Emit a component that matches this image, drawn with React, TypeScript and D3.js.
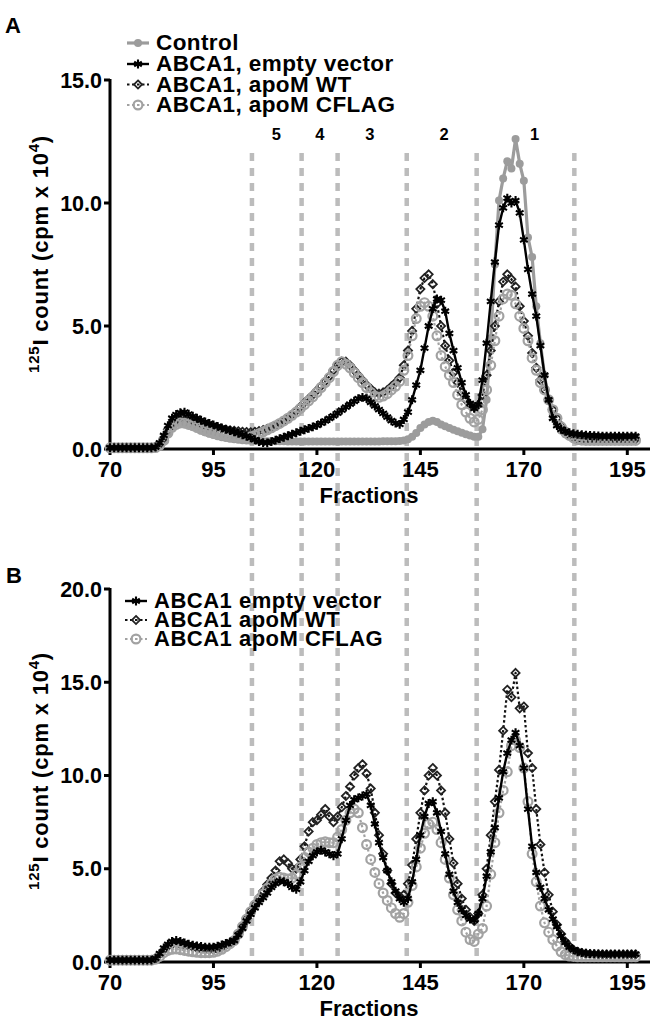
import React from "react";
import * as d3 from "d3";

// ---------- data ----------
const FIRST_FRACTION = 70;
const xTicks = [70, 95, 120, 145, 170, 195];
const yTicksA = [0, 5, 10, 15];
const yTicksB = [0, 5, 10, 15, 20];
const boundaries = [104.3, 116.3, 125.0, 141.7, 158.6, 182.2];
const regionLabels = ["5", "4", "3", "2", "1"];
const regionLabelFractions = [110.2, 120.7, 132.8, 150.7, 172.6];

// Panel A (fractions 70..197)
const aControl = [
  0.05, 0.05, 0.05, 0.05, 0.05, 0.05, 0.05, 0.05, 0.05, 0.05,
  0.05, 0.06, 0.15, 0.35, 0.65, 0.9, 1.05, 1.1, 1.05, 0.97,
  0.9, 0.82, 0.75, 0.68, 0.62, 0.57, 0.52, 0.48, 0.45, 0.42,
  0.4, 0.38, 0.36, 0.35, 0.34, 0.33, 0.33, 0.32, 0.32, 0.32,
  0.31, 0.31, 0.31, 0.3, 0.3, 0.3, 0.3, 0.3, 0.3, 0.3,
  0.3, 0.3, 0.3, 0.3, 0.3, 0.3, 0.3, 0.3, 0.3, 0.3,
  0.3, 0.3, 0.3, 0.3, 0.3, 0.3, 0.31, 0.31, 0.32, 0.32,
  0.33, 0.35, 0.4, 0.5, 0.65, 0.85, 1.0, 1.1, 1.15, 1.1,
  1.0, 0.92, 0.85, 0.78, 0.72, 0.66, 0.6, 0.55, 0.5, 0.5,
  0.8, 2.0, 4.5, 7.5, 10.1, 11.0, 11.7, 11.4, 12.6, 11.6,
  10.9, 8.6, 7.8, 5.8, 4.3, 3.0, 2.0, 1.4, 1.0, 0.75,
  0.6, 0.55, 0.5, 0.5, 0.5, 0.5, 0.5, 0.5, 0.5, 0.5,
  0.5, 0.5, 0.5, 0.5, 0.5, 0.5, 0.5, 0.5,
];
const aEmpty = [
  0.05, 0.05, 0.05, 0.05, 0.05, 0.05, 0.05, 0.05, 0.05, 0.05,
  0.05, 0.08, 0.25, 0.55, 0.95, 1.25, 1.4, 1.48, 1.5, 1.42,
  1.33, 1.25, 1.17, 1.1, 1.04, 0.98, 0.92, 0.86, 0.8, 0.75,
  0.7, 0.64, 0.58, 0.52, 0.45, 0.38, 0.3, 0.26, 0.25, 0.3,
  0.36, 0.42, 0.48, 0.54, 0.6, 0.66, 0.72, 0.78, 0.84, 0.9,
  0.96, 1.05, 1.14, 1.24, 1.35, 1.46, 1.58, 1.7, 1.82, 1.94,
  2.05, 2.1, 2.05, 1.9, 1.75, 1.6, 1.45, 1.3, 1.15, 1.05,
  1.0, 1.2, 1.5, 2.0, 2.6, 3.2, 4.1, 5.0, 5.7, 6.1,
  6.05, 5.6, 4.7, 4.0, 3.3, 2.7, 2.2, 1.85, 1.65, 1.8,
  2.8, 4.3, 6.0, 7.6, 9.1, 9.8, 10.2, 10.0, 10.1, 9.6,
  8.5, 7.3, 6.3, 5.4, 4.2, 3.0, 2.0, 1.25, 0.95, 0.8,
  0.72, 0.66, 0.62, 0.6, 0.58, 0.56, 0.55, 0.54, 0.53, 0.52,
  0.52, 0.52, 0.52, 0.52, 0.52, 0.52, 0.52, 0.52,
];
const aWT = [
  0.05, 0.05, 0.05, 0.05, 0.05, 0.05, 0.05, 0.05, 0.05, 0.05,
  0.05, 0.07, 0.2, 0.45, 0.8, 1.05, 1.2, 1.3, 1.32, 1.25,
  1.17, 1.1, 1.04, 0.98, 0.94, 0.9, 0.86, 0.82, 0.79, 0.76,
  0.74, 0.72, 0.7, 0.69, 0.68, 0.7, 0.73, 0.77, 0.82, 0.88,
  0.95, 1.04, 1.14, 1.26, 1.4, 1.55, 1.72, 1.88, 2.04, 2.2,
  2.38, 2.56, 2.75, 2.95, 3.2, 3.42, 3.55, 3.55, 3.4, 3.2,
  3.0, 2.8, 2.6, 2.45, 2.3, 2.25, 2.3, 2.4, 2.55, 2.7,
  2.9, 3.4, 4.0, 4.8, 5.7, 6.5, 6.95, 7.1, 6.7, 5.9,
  5.0, 4.2, 3.6, 3.1, 2.7, 2.3, 2.0, 1.8, 1.7, 1.8,
  2.2, 3.0, 4.0, 5.0, 6.0, 6.8, 7.1, 6.9, 6.6, 5.8,
  5.2, 4.6, 3.9, 3.3, 2.8, 2.4, 2.0, 1.6, 1.25, 0.95,
  0.72, 0.56, 0.47, 0.42, 0.4, 0.4, 0.4, 0.4, 0.4, 0.4,
  0.4, 0.4, 0.4, 0.4, 0.4, 0.4, 0.4, 0.4,
];
const aCFLAG = [
  0.05, 0.05, 0.05, 0.05, 0.05, 0.05, 0.05, 0.05, 0.05, 0.05,
  0.05, 0.06, 0.15, 0.35, 0.65, 0.88, 1.0, 1.06, 1.05, 1.0,
  0.95, 0.88, 0.8, 0.74, 0.69, 0.65, 0.61, 0.58, 0.55, 0.52,
  0.5, 0.49, 0.48, 0.48, 0.5, 0.55, 0.62, 0.7, 0.78, 0.86,
  0.95, 1.04, 1.14, 1.25, 1.37, 1.5, 1.65, 1.8, 1.96, 2.12,
  2.3, 2.5, 2.7, 2.9, 3.15, 3.4, 3.55, 3.45, 3.3, 3.1,
  2.9, 2.7, 2.5, 2.3, 2.15, 2.1, 2.15, 2.25, 2.4, 2.55,
  2.75, 3.2, 3.8, 4.6, 5.3, 5.8, 5.95, 5.8, 5.4, 4.6,
  3.8, 3.35, 3.0, 2.7, 2.2, 1.8, 1.5, 1.25, 1.1, 1.2,
  1.6, 2.4, 3.4, 4.4, 5.4, 6.1, 6.3, 6.25, 5.9, 5.4,
  4.9, 4.4, 3.7, 3.2, 2.7, 2.4, 2.0, 1.6, 1.25, 0.9,
  0.7, 0.55, 0.45, 0.38, 0.36, 0.35, 0.35, 0.35, 0.35, 0.35,
  0.35, 0.35, 0.35, 0.35, 0.35, 0.35, 0.35, 0.35,
];

// Panel B (fractions 70..197)
const bEmpty = [
  0.1, 0.1, 0.1, 0.1, 0.1, 0.1, 0.1, 0.1, 0.1, 0.1,
  0.1, 0.2, 0.45, 0.75, 0.95, 1.1, 1.15, 1.1, 1.02, 0.95,
  0.9, 0.86, 0.83, 0.8, 0.8, 0.8, 0.85, 0.92, 1.0, 1.08,
  1.15, 1.45, 1.8, 2.2, 2.55, 2.9, 3.2, 3.45, 3.7, 4.0,
  4.2, 4.35, 4.3, 4.2, 4.0, 3.9, 4.3, 4.9, 5.4, 5.7,
  5.9, 6.0, 5.9, 5.8, 5.7, 5.8, 6.6, 7.6, 8.4, 8.7,
  8.8, 8.9, 9.0, 8.4, 7.4, 6.4, 5.6, 4.9, 4.3, 3.8,
  3.4, 3.2, 3.4, 4.3, 5.5, 6.8, 7.8, 8.5, 8.6, 8.0,
  7.0, 5.8, 4.7, 3.8, 3.2, 2.8, 2.5, 2.3, 2.25, 2.6,
  3.4, 4.6, 5.9, 7.2, 8.8, 10.2, 11.2, 11.9, 12.3, 11.6,
  10.4, 8.2, 6.2, 4.8, 4.0, 3.4, 2.8, 2.3, 1.9, 1.4,
  1.05, 0.8, 0.65, 0.55, 0.5, 0.47, 0.45, 0.44, 0.43, 0.42,
  0.42, 0.42, 0.42, 0.42, 0.42, 0.42, 0.42, 0.42,
];
const bWT = [
  0.1, 0.1, 0.1, 0.1, 0.1, 0.1, 0.1, 0.1, 0.1, 0.1,
  0.1, 0.2, 0.4, 0.65, 0.85, 0.95, 1.0, 0.95, 0.9, 0.85,
  0.8, 0.75, 0.7, 0.68, 0.66, 0.66, 0.7, 0.78, 0.9, 1.0,
  1.15, 1.5, 1.9, 2.35, 2.75, 3.1, 3.45, 3.8, 4.15, 4.5,
  4.9, 5.4, 5.5, 5.3, 5.0, 5.0, 5.5, 6.2, 7.0, 7.5,
  7.6, 7.9, 8.2, 7.8, 7.5, 7.8, 8.3, 8.9, 9.4, 10.0,
  10.4, 10.6, 10.1, 9.3, 8.0, 6.8, 5.8, 4.9, 4.2, 3.7,
  3.5, 3.6, 4.2, 5.2, 6.6, 8.0, 9.2, 10.0, 10.4, 10.0,
  9.2, 8.0, 6.6, 5.3, 4.2, 3.4, 2.8, 2.4, 2.2, 2.6,
  3.6, 5.0, 6.8, 8.6, 10.3, 12.4, 14.6, 14.2, 15.5, 13.6,
  13.7, 11.2, 10.4, 8.2, 6.3, 4.8, 3.6, 2.7, 2.0, 1.5,
  1.1, 0.85, 0.65, 0.55, 0.48, 0.44, 0.42, 0.4, 0.4, 0.4,
  0.4, 0.4, 0.4, 0.4, 0.4, 0.4, 0.4, 0.4,
];
const bCFLAG = [
  0.1, 0.1, 0.1, 0.1, 0.1, 0.1, 0.1, 0.1, 0.1, 0.1,
  0.1, 0.15, 0.3, 0.5, 0.62, 0.68, 0.7, 0.66, 0.62, 0.58,
  0.55, 0.52, 0.5, 0.5, 0.5, 0.52, 0.58, 0.68, 0.82, 0.98,
  1.15, 1.5, 1.9, 2.3, 2.7, 3.05, 3.35, 3.65, 3.95, 4.2,
  4.45, 4.55, 4.5, 4.45, 4.5, 4.7, 5.1, 5.6, 5.9, 6.1,
  6.3, 6.4, 6.45, 6.4, 6.4, 6.7, 7.1, 7.6, 8.0, 8.2,
  8.0, 7.2, 6.3, 5.5, 4.8, 4.2, 3.7, 3.3, 2.9, 2.6,
  2.4, 2.6, 3.2, 4.1, 5.1, 6.1, 6.9, 7.4, 7.5, 7.1,
  6.4, 5.5, 4.5, 3.6, 2.8, 2.2, 1.6, 1.2, 1.1, 1.5,
  1.8, 3.0, 4.7, 6.4, 8.0, 9.2, 10.2, 11.6, 11.9, 11.5,
  10.4, 8.6, 5.8, 4.3, 3.0, 2.1, 1.6, 1.2, 0.85, 0.55,
  0.4, 0.32, 0.3, 0.28, 0.28, 0.28, 0.28, 0.28, 0.28, 0.28,
  0.28, 0.28, 0.28, 0.28, 0.28, 0.28, 0.28, 0.28,
];

// ---------- styles ----------
const FONT = "'Liberation Sans', Arial, Helvetica, sans-serif";
const GRAY = "#9c9c9c";
const DASH_GRAY = "#bcbcbc";

type Kind = "control" | "empty" | "wt" | "cflag";
const STYLE: Record<Kind, { color: string; width: number; dash?: string }> = {
  control: { color: GRAY, width: 3.2 },
  empty: { color: "#000", width: 2.4 },
  wt: { color: "#111", width: 2.2, dash: "2.5,2.5" },
  cflag: { color: "#a2a2a2", width: 2.2, dash: "2.5,2.5" },
};

const starPath = d3.symbol(d3.symbolAsterisk, 55)()!;
const diamondPath = d3.symbol(d3.symbolDiamond2, 42)()!;

function Marker({ kind, x, y }: { kind: Kind; x: number; y: number }) {
  if (kind === "control") return <circle cx={x} cy={y} r={4} fill={GRAY} />;
  if (kind === "empty")
    return <path d={starPath} transform={`translate(${x},${y})`} stroke="#000" strokeWidth={2.1} fill="none" />;
  if (kind === "wt")
    return <path d={diamondPath} transform={`translate(${x},${y})`} stroke="#222" strokeWidth={1.8} fill="none" />;
  return <circle cx={x} cy={y} r={4.4} fill="none" stroke="#a2a2a2" strokeWidth={2.2} />;
}

const X0 = 110;
const X1 = 648;
const xScale = d3.scaleLinear().domain([70, 200]).range([X0, X1]);

function Series({ values, kind, y }: { values: number[]; kind: Kind; y: d3.ScaleLinear<number, number> }) {
  const pts = values.map((v, i) => [xScale(FIRST_FRACTION + i), y(v)] as [number, number]);
  const line = d3.line()(pts) || "";
  const st = STYLE[kind];
  return (
    <g>
      <path d={line} fill="none" stroke={st.color} strokeWidth={st.width} strokeDasharray={st.dash} strokeLinejoin="round" />
      {pts.map((p, i) => (
        <Marker key={i} kind={kind} x={p[0]} y={p[1]} />
      ))}
    </g>
  );
}

function Axes({ y, ticks, yTop, yBottom, centerY }: { y: d3.ScaleLinear<number, number>; ticks: number[]; yTop: number; yBottom: number; centerY: number }) {
  return (
    <g fontFamily={FONT} fontWeight="bold">
      <line x1={X0} x2={X0} y1={yTop - 1} y2={yBottom + 1.5} stroke="#000" strokeWidth={3} />
      <line x1={X0 - 1.5} x2={650} y1={yBottom} y2={yBottom} stroke="#000" strokeWidth={3} />
      {ticks.map((t) => (
        <g key={t}>
          <line x1={X0 - 6} x2={X0} y1={y(t)} y2={y(t)} stroke="#000" strokeWidth={3} />
          <text x={X0 - 8} y={y(t) + 7.5} textAnchor="end" fontSize={21.5}>
            {t.toFixed(1)}
          </text>
        </g>
      ))}
      {xTicks.map((t) => (
        <g key={t}>
          <line x1={xScale(t)} x2={xScale(t)} y1={yBottom} y2={yBottom + 6} stroke="#000" strokeWidth={3} />
          <text x={xScale(t)} y={yBottom + 28} textAnchor="middle" fontSize={22}>
            {t}
          </text>
        </g>
      ))}
      <text x={369} y={yBottom + 54} textAnchor="middle" fontSize={22}>
        Fractions
      </text>
      <text transform={`translate(48,${centerY}) rotate(-90)`} textAnchor="middle" fontSize={22} letterSpacing={0.8}>
        <tspan fontSize={15} dy={-9}>125</tspan>
        <tspan dy={9}>I count (cpm x 10</tspan>
        <tspan fontSize={15} dy={-9}>4</tspan>
        <tspan dy={9}>)</tspan>
      </text>
    </g>
  );
}

function LegendRow({ kind, label, x, y, fontSize, spacing }: { kind: Kind; label: string; x: number; y: number; fontSize: number; spacing: number }) {
  const st = STYLE[kind];
  return (
    <g>
      <line x1={x} x2={x + 22} y1={y - 7} y2={y - 7} stroke={st.color} strokeWidth={st.width} strokeDasharray={st.dash} />
      <Marker kind={kind} x={x + 11} y={y - 7} />
      <text x={x + 29} y={y} fontFamily={FONT} fontWeight="bold" fontSize={fontSize} letterSpacing={spacing}>
        {label}
      </text>
    </g>
  );
}

export default function App() {
  const yA = d3.scaleLinear().domain([0, 15]).range([449, 80]);
  const yB = d3.scaleLinear().domain([0, 20]).range([962, 589]);
  return (
    <svg width={650} height={1023} style={{ position: "absolute", left: 0, top: 0, background: "#fff" }}>
      <rect width={650} height={1023} fill="#fff" />
      {/* fraction boundaries */}
      {boundaries.map((b) => (
        <line key={b} x1={xScale(b)} x2={xScale(b)} y1={153} y2={960} stroke={DASH_GRAY} strokeWidth={4.5} strokeDasharray="8,7" />
      ))}
      {regionLabels.map((l, i) => (
        <text key={l} x={xScale(regionLabelFractions[i])} y={140} textAnchor="middle" fontFamily={FONT} fontWeight="bold" fontSize={16.5}>
          {l}
        </text>
      ))}

      {/* Panel A */}
      <text x={5} y={33} fontFamily={FONT} fontWeight="bold" fontSize={22}>A</text>
      <Axes y={yA} ticks={yTicksA} yTop={80} yBottom={449} centerY={254} />
      <Series values={aControl} kind="control" y={yA} />
      <Series values={aWT} kind="wt" y={yA} />
      <Series values={aCFLAG} kind="cflag" y={yA} />
      <Series values={aEmpty} kind="empty" y={yA} />
      <LegendRow kind="control" label="Control" x={127} y={50} fontSize={22.5} spacing={0.4} />
      <LegendRow kind="empty" label="ABCA1, empty vector" x={127} y={71} fontSize={22.5} spacing={0.4} />
      <LegendRow kind="wt" label="ABCA1, apoM WT" x={127} y={91.5} fontSize={22.5} spacing={0.4} />
      <LegendRow kind="cflag" label="ABCA1, apoM CFLAG" x={127} y={112} fontSize={22.5} spacing={0.4} />

      {/* Panel B */}
      <text x={6} y={583} fontFamily={FONT} fontWeight="bold" fontSize={22}>B</text>
      <Axes y={yB} ticks={yTicksB} yTop={589} yBottom={962} centerY={771} />
      <Series values={bWT} kind="wt" y={yB} />
      <Series values={bCFLAG} kind="cflag" y={yB} />
      <Series values={bEmpty} kind="empty" y={yB} />
      <LegendRow kind="empty" label="ABCA1 empty vector" x={125} y={608} fontSize={22} spacing={0.5} />
      <LegendRow kind="wt" label="ABCA1 apoM WT" x={125} y={627} fontSize={22} spacing={0.5} />
      <LegendRow kind="cflag" label="ABCA1 apoM CFLAG" x={125} y={646} fontSize={22} spacing={0.5} />
    </svg>
  );
}
